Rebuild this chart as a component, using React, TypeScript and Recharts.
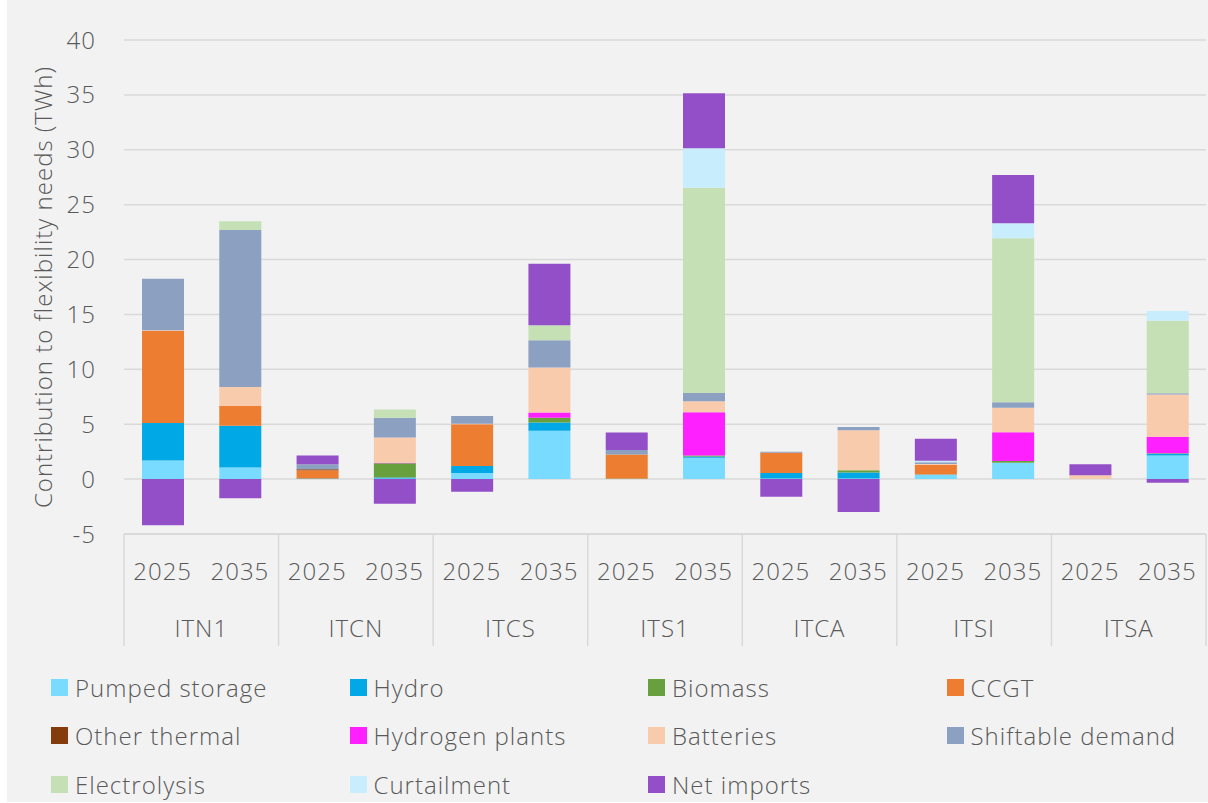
import React from 'react'
import { BarChart, Bar, XAxis, YAxis, CartesianGrid } from 'recharts'

const groups = ['ITN1', 'ITCN', 'ITCS', 'ITS1', 'ITCA', 'ITSI', 'ITSA']
const years = ['2025', '2035']
const yTicks = [-5, 0, 5, 10, 15, 20, 25, 30, 35, 40]

// one value per bar: ITN1 2025, ITN1 2035, ITCN 2025, ... ITSA 2035
const pumpedStorage = [1.7, 1.05, 0, 0.05, 0.55, 4.4, 0, 1.95, 0.05, 0.05, 0.4, 1.5, 0, 2.15]
const hydro = [3.4, 3.8, 0.05, 0.1, 0.65, 0.75, 0, 0.1, 0.5, 0.55, 0.03, 0, 0, 0.15]
const biomass = [0, 0, 0, 1.3, 0, 0.43, 0.05, 0.1, 0, 0.2, 0, 0.15, 0, 0.05]
const ccgt = [8.4, 1.8, 0.75, 0, 3.8, 0, 2.2, 0, 1.85, 0, 0.85, 0, 0, 0]
const otherThermal = [0, 0, 0.1, 0, 0, 0, 0, 0, 0, 0, 0, 0, 0, 0]
const hydrogenPlants = [0, 0, 0, 0.05, 0, 0.48, 0, 3.95, 0, 0, 0, 2.63, 0, 1.5]
const batteries = [0.05, 1.75, 0, 2.3, 0.05, 4.1, 0, 1.0, 0, 3.65, 0.1, 2.22, 0.36, 3.85]
const shiftableDemand = [4.7, 14.3, 0.45, 1.8, 0.7, 2.5, 0.4, 0.75, 0.1, 0.3, 0.15, 0.5, 0, 0.12]
const electrolysis = [0, 0.8, 0, 0.75, 0, 1.35, 0, 18.7, 0, 0, 0, 14.95, 0, 6.6]
const curtailment = [0, 0, 0, 0, 0, 0, 0, 3.6, 0, 0, 0.15, 1.35, 0, 0.9]
const netImports = [-4.2, -1.75, 0.8, -2.25, -1.15, 5.6, 1.6, 5.0, -1.6, -3.0, 2.0, 4.4, 1.0, -0.33]

const series = [
  { key: 'pumped', name: 'Pumped storage', color: '#79dbff', values: pumpedStorage },
  { key: 'hydro', name: 'Hydro', color: '#00a9e6', values: hydro },
  { key: 'biomass', name: 'Biomass', color: '#69a03e', values: biomass },
  { key: 'ccgt', name: 'CCGT', color: '#ed7d31', values: ccgt },
  { key: 'other', name: 'Other thermal', color: '#843c0c', values: otherThermal },
  { key: 'h2', name: 'Hydrogen plants', color: '#ff20ff', values: hydrogenPlants },
  { key: 'batt', name: 'Batteries', color: '#f8cbad', values: batteries },
  { key: 'shift', name: 'Shiftable demand', color: '#8ca0c2', values: shiftableDemand },
  { key: 'elec', name: 'Electrolysis', color: '#c5e0b4', values: electrolysis },
  { key: 'curt', name: 'Curtailment', color: '#c8edfc', values: curtailment },
  { key: 'net', name: 'Net imports', color: '#934fc8', values: netImports },
]

const data = groups.flatMap((g, gi) =>
  years.map((y, yi) => {
    const i = gi * 2 + yi
    const row: Record<string, string | number> = { id: `${g}-${y}`, group: g, year: y }
    series.forEach((s) => {
      row[s.key] = s.values[i]
    })
    return row
  })
)

const FONT = '"Open Sans", sans-serif'
const TEXT = '#595959'
const GRID = '#d9d9d9'
const LS = 1

const plotLeft = 124
const plotRight = 1206
const slot = (plotRight - plotLeft) / data.length

function CategoryTick(props: any) {
  const { x, y, index } = props
  const row = data[index]
  return (
    <g>
      <text x={x} y={y + 46} textAnchor="middle" fill={TEXT} fontSize={24} fontFamily={FONT} fontWeight={300} letterSpacing={LS}>
        {row.year}
      </text>
      {index % 2 === 0 && (
        <>
          <line x1={x - slot / 2} x2={x - slot / 2} y1={y} y2={y + 112} stroke={GRID} strokeWidth={1.5} />
          <text x={x + slot / 2} y={y + 103} textAnchor="middle" fill={TEXT} fontSize={24} fontFamily={FONT} fontWeight={300} letterSpacing={LS}>
            {row.group}
          </text>
        </>
      )}
      {index === data.length - 1 && (
        <line x1={x + slot / 2} x2={x + slot / 2} y1={y} y2={y + 112} stroke={GRID} strokeWidth={1.5} />
      )}
    </g>
  )
}

function YTitle() {
  return (
    <text
      x={42}
      y={287}
      transform="rotate(-90 42 287)"
      textAnchor="middle"
      dominantBaseline="central"
      fill={TEXT}
      fontSize={24}
      fontFamily={FONT}
      fontWeight={300}
      letterSpacing={LS}
    >
      Contribution to flexibility needs (TWh)
    </text>
  )
}

export default function App() {
  return (
    <div style={{ position: 'absolute', left: 7, top: 0, width: 1201, height: 802, background: '#f2f2f2' }}>
      <div style={{ position: 'absolute', left: -7, top: 0 }}>
        <BarChart
          width={1208}
          height={803}
          data={data}
          stackOffset="sign"
          margin={{ top: 40, right: 2, left: 0, bottom: 0 }}
        >
          <CartesianGrid vertical={false} stroke={GRID} strokeWidth={1.5} />
          <XAxis
            dataKey="id"
            interval={0}
            height={269}
            tickLine={false}
            tickSize={0}
            tickMargin={0}
            axisLine={{ stroke: GRID, strokeWidth: 1.5 }}
            tick={<CategoryTick />}
          />
          <YAxis
            width={124}
            domain={[-5, 40]}
            ticks={yTicks}
            interval={0}
            axisLine={false}
            tickLine={false}
            tickSize={0}
            tickMargin={28}
            tick={{ fill: TEXT, fontSize: 24, fontFamily: FONT, fontWeight: 300, letterSpacing: LS }}
            label={{ content: () => <YTitle /> }}
          />
          {series.map((s) => (
            <Bar key={s.key} dataKey={s.key} name={s.name} stackId="a" fill={s.color} barSize={42} isAnimationActive={false} />
          ))}
        </BarChart>
      </div>
      <div
        style={{
          position: 'absolute',
          left: 44,
          top: 667,
          display: 'grid',
          gridTemplateColumns: 'repeat(4, 298.5px)',
          gridAutoRows: '48.7px',
          fontFamily: FONT,
          fontWeight: 300,
          fontSize: 24,
          letterSpacing: LS,
          color: TEXT,
        }}
      >
        {series.map((s) => (
          <div key={s.key} style={{ display: 'flex', alignItems: 'center', height: 40 }}>
            <span style={{ width: 17, height: 17, background: s.color, marginRight: 7, flexShrink: 0 }} />
            <span style={{ whiteSpace: 'nowrap' }}>{s.name}</span>
          </div>
        ))}
      </div>
    </div>
  )
}
